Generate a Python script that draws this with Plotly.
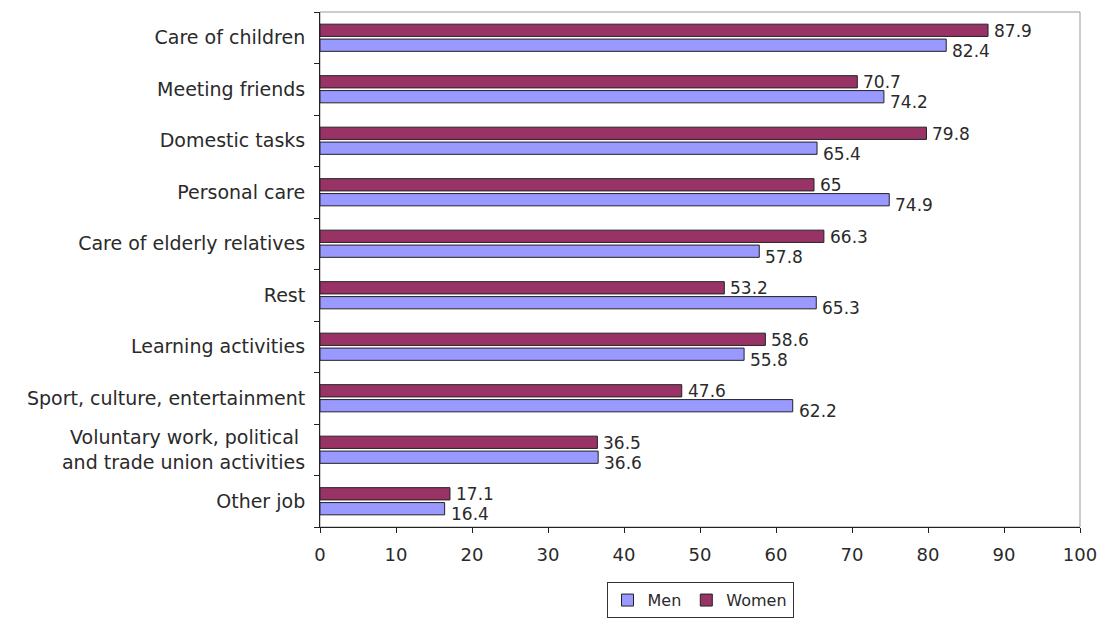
import plotly.graph_objects as go

categories = [
    "Care of children",
    "Meeting friends",
    "Domestic tasks",
    "Personal care",
    "Care of elderly relatives",
    "Rest",
    "Learning activities",
    "Sport, culture, entertainment",
    "Voluntary work, political <br>and trade union activities",
    "Other job",
]
men = [82.4, 74.2, 65.4, 74.9, 57.8, 65.3, 55.8, 62.2, 36.6, 16.4]
women = [87.9, 70.7, 79.8, 65.0, 66.3, 53.2, 58.6, 47.6, 36.5, 17.1]
x_ticks = list(range(0, 101, 10))

FONT = "DejaVu Sans, Verdana, sans-serif"
TEXT = "#2a2a2a"
MEN_COLOR = "#9999FF"
WOMEN_COLOR = "#993366"

fig = go.Figure()
fig.add_trace(go.Bar(
    name="Men", y=categories, x=men, orientation="h",
    marker=dict(color=MEN_COLOR, line=dict(color="#222222", width=1)),
))
fig.add_trace(go.Bar(
    name="Women", y=categories, x=women, orientation="h",
    marker=dict(color=WOMEN_COLOR, line=dict(color="#222222", width=1)),
))

# value labels to the right of each bar
annotations = []
for cat, m, w in zip(categories, men, women):
    annotations.append(dict(x=w, y=cat, text=f"{w:g}", showarrow=False,
                            xanchor="left", xshift=4, yshift=7,
                            font=dict(family=FONT, size=17, color=TEXT)))
    annotations.append(dict(x=m, y=cat, text=f"{m:g}", showarrow=False,
                            xanchor="left", xshift=4, yshift=-13,
                            font=dict(family=FONT, size=17, color=TEXT)))

fig.update_layout(
    width=1106, height=621,
    margin=dict(l=320, r=26, t=12, b=94, autoexpand=False),
    paper_bgcolor="white", plot_bgcolor="white",
    barmode="group", bargap=0.42, bargroupgap=0.18,
    font=dict(family=FONT, size=18, color=TEXT),
    annotations=annotations,
    showlegend=True,
    legend=dict(orientation="h", x=0.5, xanchor="center", y=-0.177, yanchor="bottom",
                bordercolor="#333333", borderwidth=1, bgcolor="white",
                font=dict(family=FONT, size=16, color=TEXT),
                itemwidth=30, traceorder="normal", tracegroupgap=0),
    shapes=[dict(type="rect", xref="paper", yref="paper", x0=0, x1=1, y0=0, y1=1,
                 line=dict(color="#999999", width=1), layer="below")],
)
fig.update_xaxes(
    range=[0, 100], tickvals=x_ticks, ticktext=[str(t) for t in x_ticks],
    showgrid=False, zeroline=False, showline=True, linecolor="#222222", linewidth=1,
    ticks="outside", ticklen=5, tickcolor="#222222", ticklabelstandoff=6,
    tickfont=dict(family=FONT, size=18, color=TEXT),
)
fig.update_yaxes(
    categoryorder="array", categoryarray=list(reversed(categories)),
    showgrid=False, showline=True, linecolor="#222222", linewidth=1,
    ticks="outside", ticklen=5, tickcolor="#222222", tickson="boundaries",
    ticklabelstandoff=10,
    tickfont=dict(family=FONT, size=19, color=TEXT),
)

fig.write_html("out.html")
